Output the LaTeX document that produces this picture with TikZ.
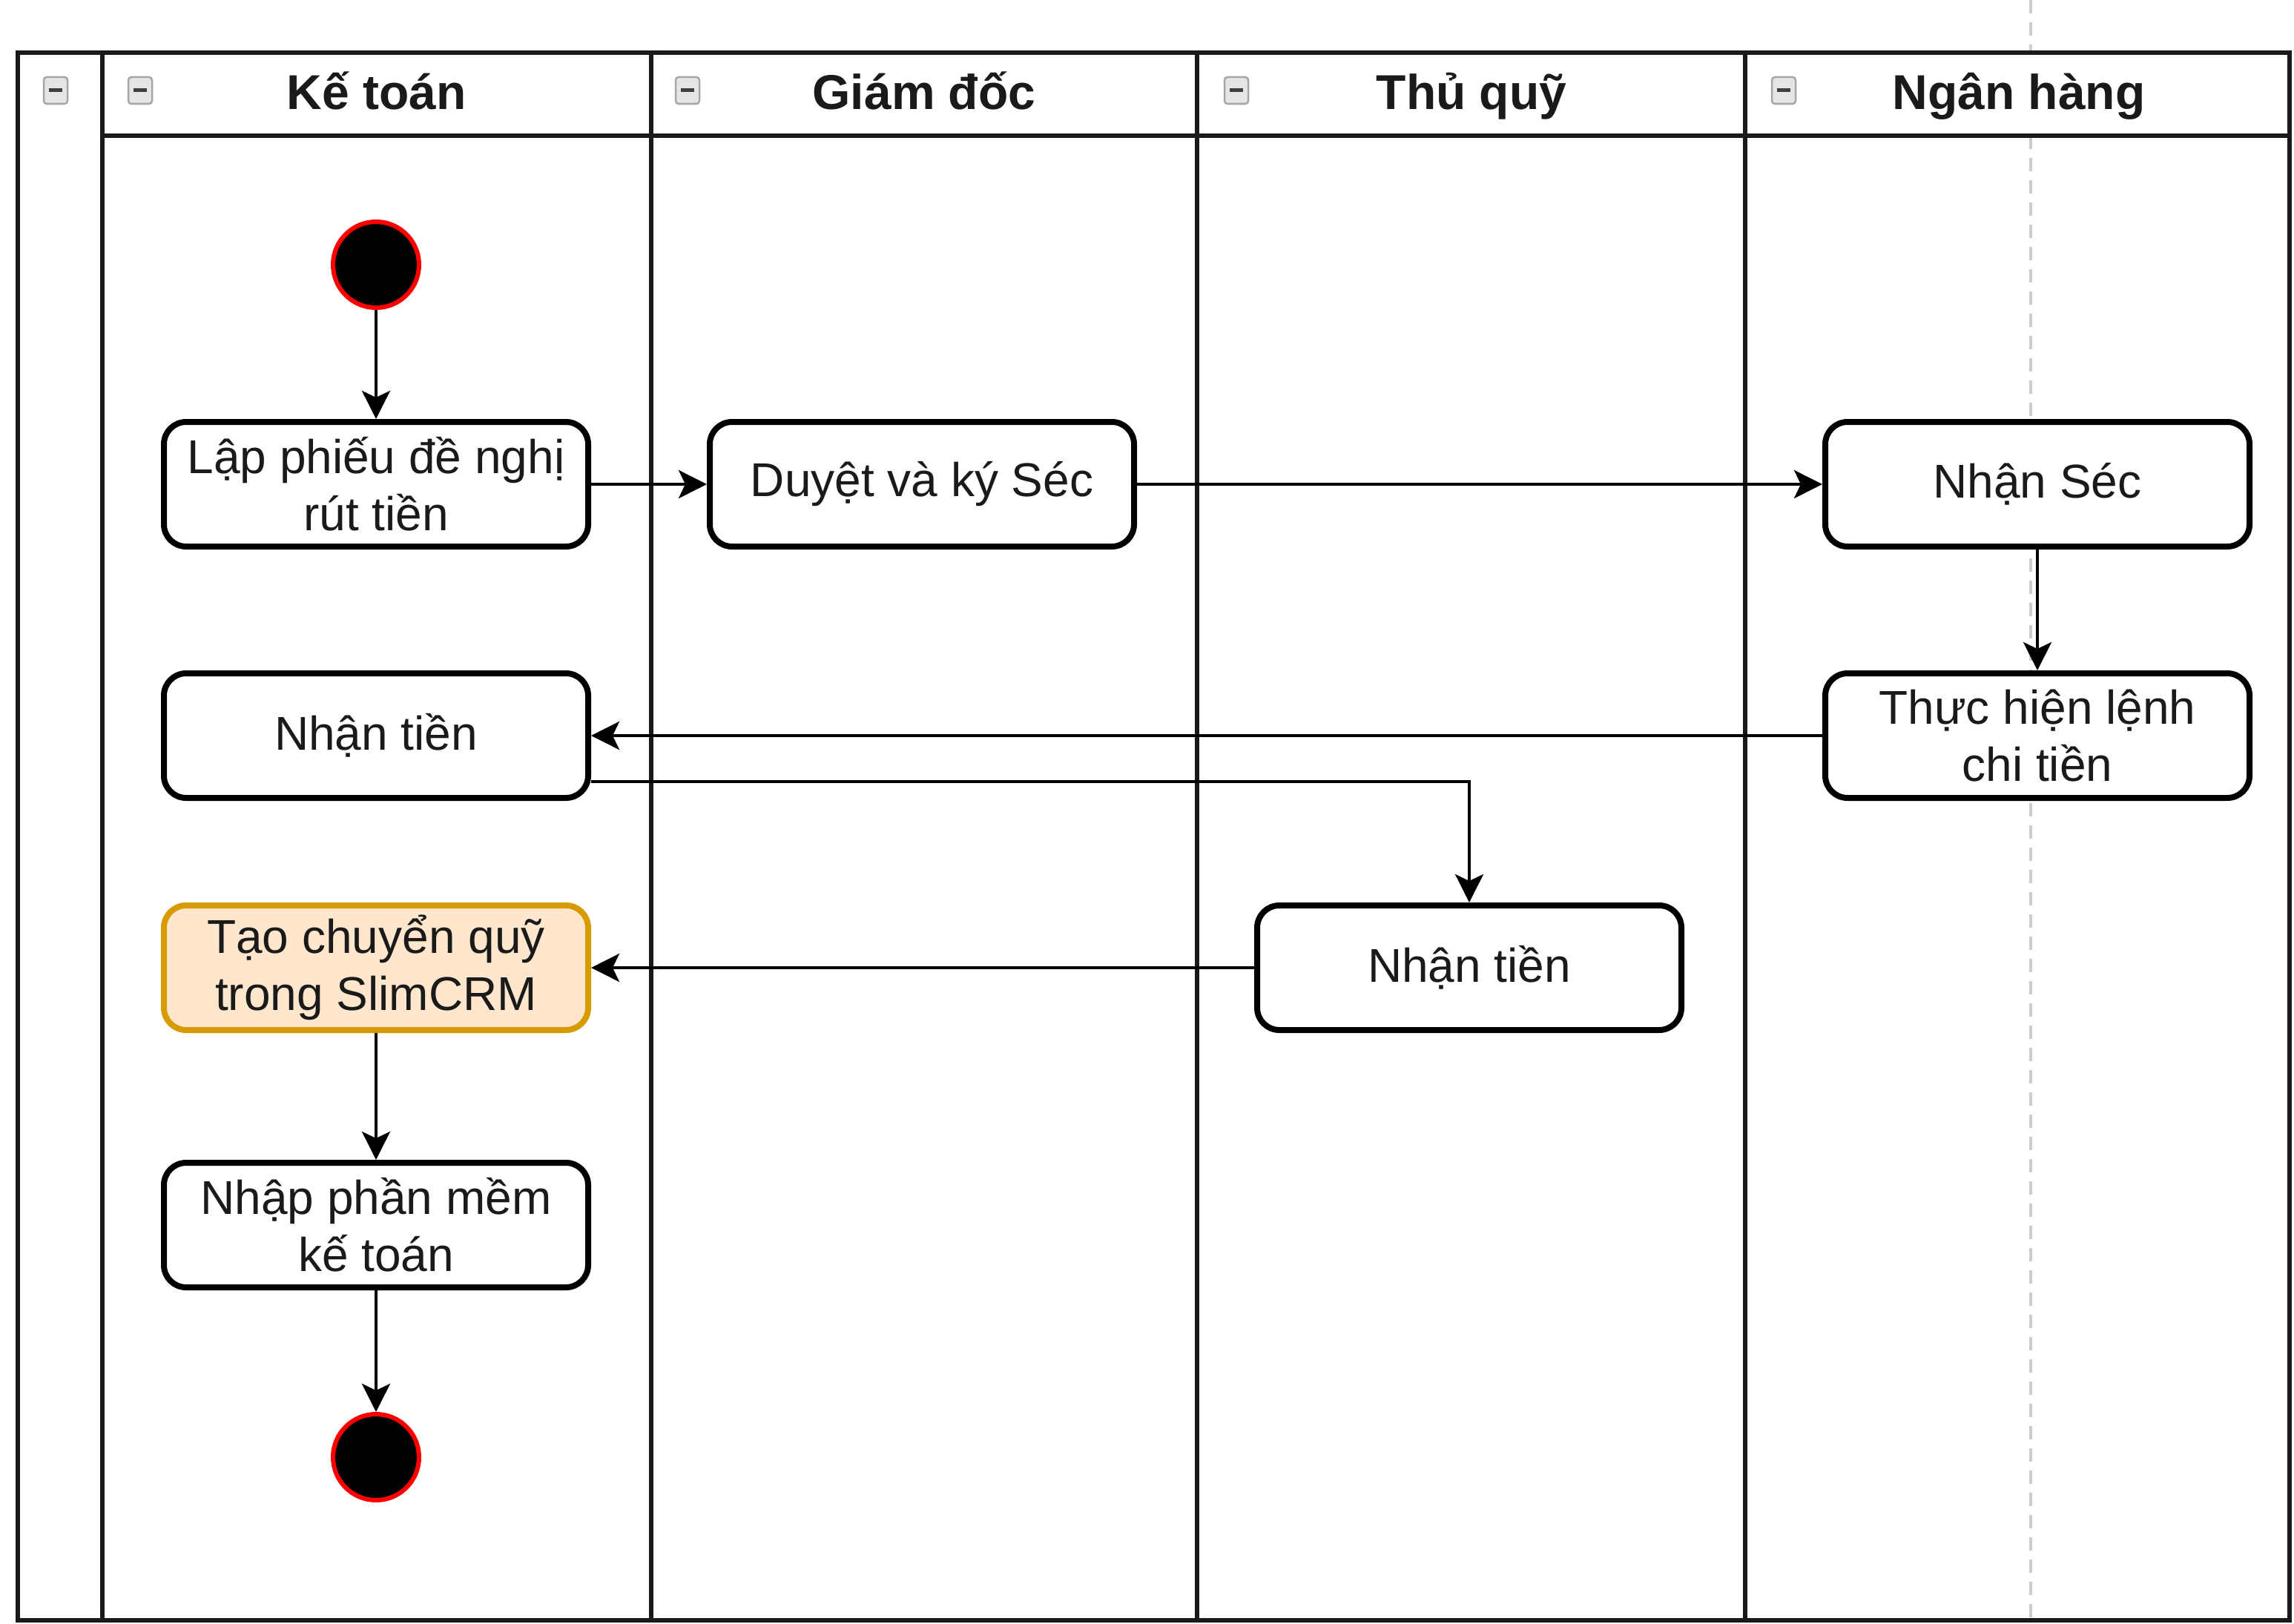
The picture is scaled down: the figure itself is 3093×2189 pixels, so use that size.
\documentclass[tikz,border=0pt]{standalone}
\usepackage{fontspec}
\setmainfont{Liberation Sans}
\usetikzlibrary{arrows.meta,calc}
\definecolor{orfill}{HTML}{FFE6CC}
\definecolor{ordraw}{HTML}{D79B00}
\definecolor{dashgray}{HTML}{CCCCCC}
\definecolor{txt}{HTML}{1A1A1A}
\begin{document}
\begin{tikzpicture}[x=1pt,y=-1pt,
  act/.style={draw=black, line width=8pt, rounded corners=30pt, fill=white,
    minimum width=572pt, minimum height=168pt, align=center, inner sep=0pt,
    text=txt, font=\fontsize{64}{77}\selectfont},
  actor/.style={act, draw=ordraw, fill=orfill},
  startend/.style={circle, fill=black, draw=red, line width=6pt, minimum size=116pt, inner sep=0pt},
  flow/.style={line width=4.5pt, -{Stealth[length=38pt,width=38pt,inset=9pt]}},
  lane/.style={line width=5.5pt, black!90},
  lanehead/.style={font=\fontsize{66}{77}\selectfont\bfseries, text=txt, inner sep=0pt,
    text height=48pt, text depth=14pt},
  icon/.style={draw=gray!70, fill=gray!20, rounded corners=4pt, line width=2.5pt,
    minimum width=32pt, minimum height=36pt, inner sep=0pt,
    path picture={\draw[line width=5pt, black!75]
      ([xshift=-9pt]path picture bounding box.center) -- ([xshift=9pt]path picture bounding box.center);}},
  guide/.style={draw=dashgray, line width=4pt, dash pattern=on 18pt off 12pt}
]
\useasboundingbox (0,0) rectangle (3093,2189);

% dashed guide
\draw[guide] (2738,0) -- (2738,71);
\draw[guide] (2738,183) -- (2738,2189);

% pool and lanes
\draw[lane] (24,71) rectangle (3087,2185);
\draw[lane] (138,71) -- (138,2185);
\draw[lane] (878,71) -- (878,2185);
\draw[lane] (1614,71) -- (1614,2185);
\draw[lane] (2353,71) -- (2353,2185);
\draw[lane] (138,183) -- (3087,183);

% headers
\node[icon] (ic0) at (75,122) {};
\node[icon] (ic1) at (189,122) {};
\node[icon] (ic2) at (927,122) {};
\node[icon] (ic3) at (1667,122) {};
\node[icon] (ic4) at (2405,122) {};
\node[lanehead] (h1) at (508,130) {Kế toán};
\node[lanehead] (h2) at (1246,130) {Giám đốc};
\node[lanehead] (h3) at (1984,130) {Thủ quỹ};
\node[lanehead] (h4) at (2722,130) {Ngân hàng};

% nodes
\node[startend] (start) at (507,357) {};
\node[act] (lap) at (507,653) {Lập phiếu đề nghị\\rút tiền};
\node[act] (duyet) at (1243,653) {Duyệt và ký Séc};
\node[act] (nhansec) at (2747,653) {Nhận Séc};
\node[act] (thuchien) at (2747,992) {Thực hiện lệnh\\chi tiền};
\node[act] (nt1) at (507,992) {Nhận tiền};
\node[act] (nt2) at (1981,1305) {Nhận tiền};
\node[actor] (tao) at (507,1305) {Tạo chuyển quỹ\\trong SlimCRM};
\node[act] (nhap) at (507,1652) {Nhập phần mềm\\kế toán};
\node[startend] (end) at (507,1965) {};

% connectors
\draw[flow] (start) -- (lap);
\draw[flow] (lap) -- (duyet);
\draw[flow] (duyet) -- (nhansec);
\draw[flow] (nhansec) -- (thuchien);
\draw[flow] (thuchien) -- (nt1);
\draw[flow] ([yshift=-62pt]nt1.east) -| (nt2.north);
\draw[flow] (nt2) -- (tao);
\draw[flow] (tao) -- (nhap);
\draw[flow] (nhap) -- (end);
\end{tikzpicture}
\end{document}
